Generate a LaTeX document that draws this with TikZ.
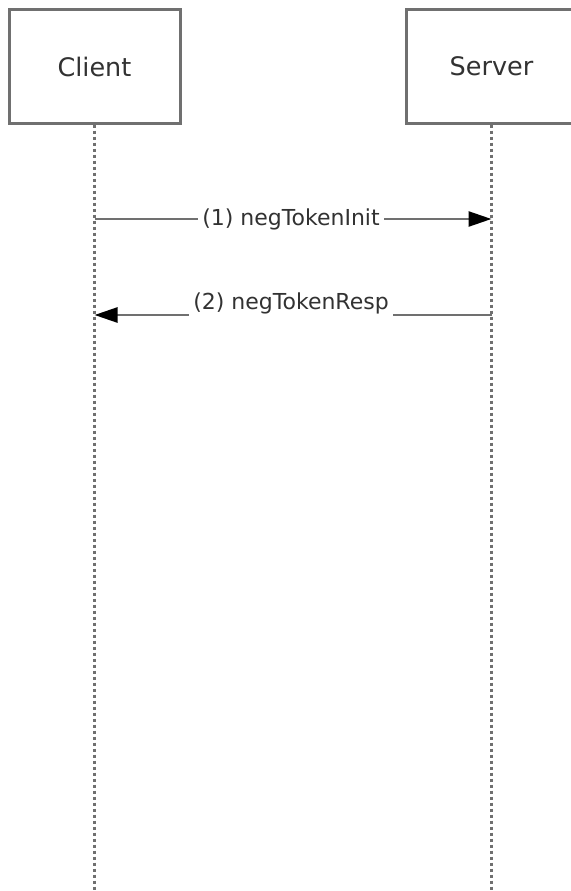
\documentclass[tikz,border=0pt]{standalone}
\usepackage{fontspec}
\setmainfont{DejaVu Sans}
\usetikzlibrary{arrows.meta}
\definecolor{linegray}{RGB}{112,112,112}
\definecolor{txtgray}{RGB}{50,50,50}
\begin{document}
\begin{tikzpicture}[x=1pt,y=-1pt,
  actor/.style={draw=linegray,line width=3pt,fill=white,minimum width=171pt,minimum height=113pt,
    font=\fontsize{25.5}{30}\selectfont,text=txtgray,inner sep=0pt},
  lifeline/.style={draw=linegray,line width=2.5pt,dash pattern=on 3pt off 3pt},
  msg/.style={draw=linegray,line width=2.5pt,-{Triangle[length=23pt,width=15pt,color=black]}},
  msglabel/.style={fill=white,font=\fontsize{22}{26}\selectfont,text=txtgray,inner xsep=4pt}]
\useasboundingbox (0,0) rectangle (570,891);
\node[actor] (client) at (94.5,66.5) {Client};
\node[actor] (server) at (491.5,66.5) {Server};
\coordinate (cend) at (94.5,891);
\coordinate (send) at (491.5,891);
\draw[lifeline] (client.south) -- (cend);
\draw[lifeline] (server.south) -- (send);
\coordinate (c1) at (94.5,219);
\coordinate (s1) at (491.5,219);
\coordinate (c2) at (94.5,315);
\coordinate (s2) at (491.5,315);
\draw[msg] (c1) -- (s1);
\node[msglabel] (l1) at (291,219) {(1) negTokenInit};
\draw[msg] (s2) -- (c2);
\node[msglabel,anchor=base,inner ysep=4pt] (l2) at (291,309) {(2) negTokenResp};
\end{tikzpicture}
\end{document}
